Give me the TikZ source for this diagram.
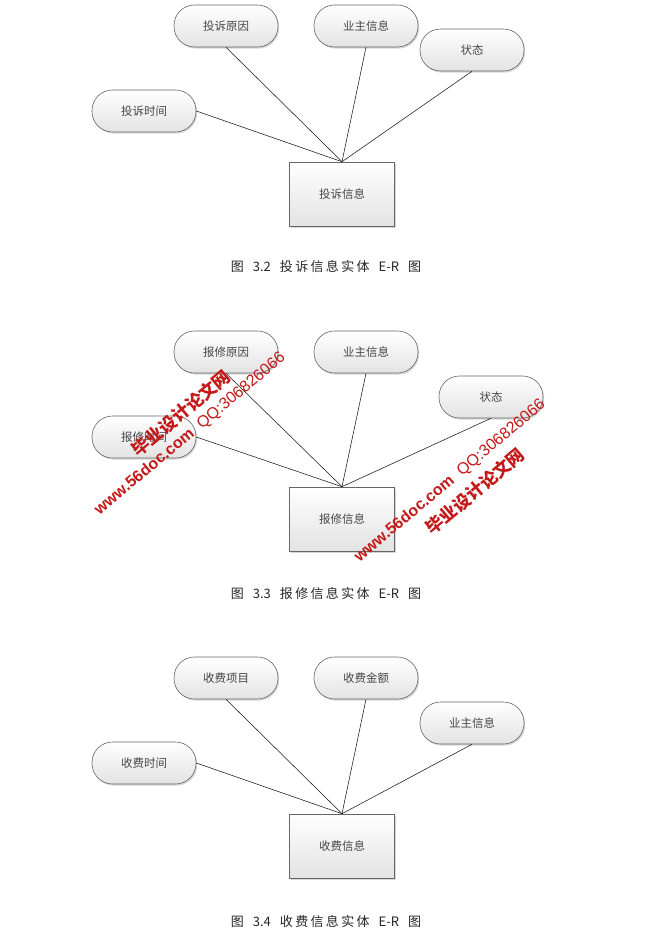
\documentclass[tikz,border=0pt]{standalone}
\usepackage{fontspec}
\setmainfont{Liberation Sans}
\newfontfamily\cjk{Noto Sans CJK SC}
\usetikzlibrary{shadows}

\definecolor{wmred}{RGB}{196,26,26}
\newcommand\capcn[1]{{\addfontfeature{LetterSpace=18}#1}}
\newcommand\capgap{\hspace{9pt}}

\begin{document}
\begin{tikzpicture}[x=1pt, y=-1pt,
    attr/.style={draw=black!60, line width=0.6pt, rounded corners=20.5pt,
        minimum width=104pt, minimum height=42pt, inner sep=0pt,
        top color=white, bottom color=black!11,
        drop shadow={shadow xshift=1.2pt, shadow yshift=-1.6pt, fill=black!45, opacity=0.35},
        font=\cjk\fontsize{11.5}{13}\selectfont, text=black!72},
    entity/.style={attr, rounded corners=0pt, minimum width=105pt, minimum height=64pt},
    link/.style={line width=0.55pt, black!90},
    figcap/.style={font=\cjk\fontsize{13}{15}\selectfont, text=black!85},
    wm/.style={text=wmred, rotate=40, inner sep=0pt}]
    % --- 1. Page ---
    \useasboundingbox[fill=white] (0,0) rectangle (662,934);

    % --- 2. Complaint entity ---
    \node[attr] (r1) at (226,26) {投诉原因};
    \node[attr] (o1) at (366,26) {业主信息};
    \node[attr] (s1) at (472,50) {状态};
    \node[attr] (t1) at (144,111) {投诉时间};
    \node[entity] (e1) at (342,194) {投诉信息};
    \draw[link] (t1.east) -- (e1.north);
    \draw[link] (r1.south) -- (e1.north);
    \draw[link] (o1.south) -- (e1.north);
    \draw[link] (s1.south) -- (e1.north);
    \node[figcap] (c1) at (326,267) {\capcn{图}\capgap 3.2\capgap\capcn{投诉信息实体}\capgap E-R\capgap\capcn{图}};

    % --- 3. Repair entity ---
    \node[attr] (r2) at (226,352) {报修原因};
    \node[attr] (o2) at (366,352) {业主信息};
    \node[attr] (s2) at (491,397) {状态};
    \node[attr] (t2) at (144,437) {报修时间};
    \node[entity] (e2) at (342,519) {报修信息};
    \draw[link] (t2.east) -- (e2.north);
    \draw[link] (r2.south) -- (e2.north);
    \draw[link] (o2.south) -- (e2.north);
    \draw[link] (s2.south) -- (e2.north);
    \node[figcap] (c2) at (326,594) {\capcn{图}\capgap 3.3\capgap\capcn{报修信息实体}\capgap E-R\capgap\capcn{图}};

    % --- 4. Fee entity ---
    \node[attr] (i3) at (226,678) {收费项目};
    \node[attr] (a3) at (366,678) {收费金额};
    \node[attr] (o3) at (472,723) {业主信息};
    \node[attr] (t3) at (144,763) {收费时间};
    \node[entity] (e3) at (342,846) {收费信息};
    \draw[link] (t3.east) -- (e3.north);
    \draw[link] (i3.south) -- (e3.north);
    \draw[link] (a3.south) -- (e3.north);
    \draw[link] (o3.south) -- (e3.north);
    \node[figcap] (c3) at (326,922) {\capcn{图}\capgap 3.4\capgap\capcn{收费信息实体}\capgap E-R\capgap\capcn{图}};

    % --- 5. Watermarks ---
    \node[wm, font=\cjk\bfseries\fontsize{17.5}{17.5}\selectfont] (w1) at (181,413) {毕业设计论文网};
    \node[wm, font=\fontsize{16}{16}\selectfont] (u1) at (190,434) {\textbf{www.56doc.com}\hspace{9pt}QQ:306826066};
    \node[wm, font=\cjk\bfseries\fontsize{17.5}{17.5}\selectfont] (w2) at (475,491) {毕业设计论文网};
    \node[wm, font=\fontsize{16}{16}\selectfont] (u2) at (450,481) {\textbf{www.56doc.com}\hspace{9pt}QQ:306826066};
\end{tikzpicture}
\end{document}
